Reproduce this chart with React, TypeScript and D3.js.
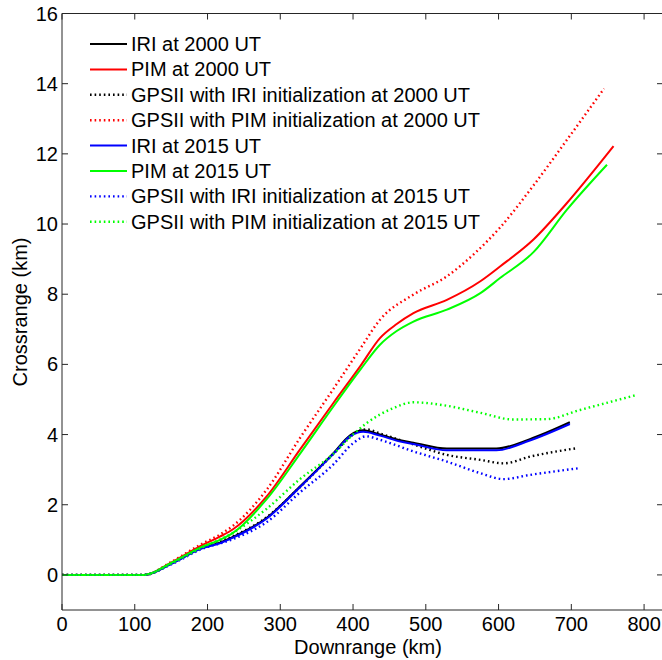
import React from "react";
import * as d3 from "d3";

const xTicks = [0, 100, 200, 300, 400, 500, 600, 700, 800];
const yTicks = [0, 2, 4, 6, 8, 10, 12, 14, 16];

const iri2000X = [0, 60, 113, 150, 190, 217, 235, 281, 327, 373, 396, 414, 437, 465, 483, 529, 597, 643, 698];
const iri2000Y = [0, 0, 0, 0.32, 0.75, 0.92, 1.08, 1.62, 2.52, 3.47, 3.98, 4.12, 4.0, 3.84, 3.77, 3.6, 3.6, 3.87, 4.35];

const pim2000X = [0, 60, 113, 150, 190, 217, 235, 281, 327, 373, 410, 437, 460, 483, 529, 575, 602, 648, 694, 758];
const pim2000Y = [0, 0, 0, 0.35, 0.82, 1.09, 1.3, 2.23, 3.57, 4.9, 5.95, 6.75, 7.15, 7.46, 7.84, 8.37, 8.79, 9.56, 10.6, 12.22];

const gpsIri2000X = [0, 60, 113, 150, 190, 235, 281, 327, 373, 400, 418, 437, 483, 529, 575, 607, 643, 707];
const gpsIri2000Y = [0, 0, 0, 0.33, 0.76, 1.1, 1.64, 2.5, 3.45, 4.0, 4.15, 4.03, 3.72, 3.42, 3.28, 3.18, 3.37, 3.61];

const gpsPim2000X = [0, 60, 113, 150, 190, 217, 235, 281, 327, 373, 410, 437, 483, 529, 568, 602, 648, 694, 745];
const gpsPim2000Y = [0, 0, 0, 0.37, 0.86, 1.15, 1.4, 2.42, 3.9, 5.3, 6.45, 7.27, 7.99, 8.51, 9.18, 9.9, 11.1, 12.4, 13.86];

const iri2015X = [0, 60, 113, 150, 190, 217, 235, 281, 327, 373, 396, 414, 437, 465, 483, 529, 597, 643, 698];
const iri2015Y = [0, 0, 0, 0.31, 0.74, 0.9, 1.06, 1.6, 2.5, 3.45, 3.95, 4.08, 3.97, 3.8, 3.73, 3.55, 3.55, 3.83, 4.3];

const pim2015X = [0, 60, 113, 150, 190, 217, 235, 281, 327, 373, 410, 437, 460, 483, 529, 575, 602, 648, 694, 749];
const pim2015Y = [0, 0, 0, 0.34, 0.78, 1.0, 1.2, 2.15, 3.45, 4.8, 5.85, 6.56, 6.95, 7.22, 7.56, 8.03, 8.46, 9.2, 10.41, 11.69];

const gpsIri2015X = [0, 60, 113, 150, 190, 235, 281, 327, 373, 400, 418, 437, 483, 529, 575, 607, 643, 710];
const gpsIri2015Y = [0, 0, 0, 0.3, 0.72, 1.02, 1.5, 2.35, 3.15, 3.75, 3.95, 3.85, 3.52, 3.23, 2.9, 2.73, 2.85, 3.04];

const gpsPim2015X = [0, 60, 113, 150, 190, 235, 281, 327, 373, 400, 419, 455, 483, 529, 575, 620, 666, 712, 790];
const gpsPim2015Y = [0, 0, 0, 0.32, 0.75, 1.2, 1.88, 2.73, 3.45, 4.0, 4.33, 4.75, 4.92, 4.82, 4.62, 4.43, 4.44, 4.7, 5.13];

const seriesNames = [
  "IRI at 2000 UT",
  "PIM at 2000 UT",
  "GPSII with IRI initialization at 2000 UT",
  "GPSII with PIM initialization at 2000 UT",
  "IRI at 2015 UT",
  "PIM at 2015 UT",
  "GPSII with IRI initialization at 2015 UT",
  "GPSII with PIM initialization at 2015 UT",
];
const seriesX = [iri2000X, pim2000X, gpsIri2000X, gpsPim2000X, iri2015X, pim2015X, gpsIri2015X, gpsPim2015X];
const seriesY = [iri2000Y, pim2000Y, gpsIri2000Y, gpsPim2000Y, iri2015Y, pim2015Y, gpsIri2015Y, gpsPim2015Y];
const seriesColor = ["#000000", "#ff0000", "#000000", "#ff0000", "#0000ff", "#00ff00", "#0000ff", "#00ff00"];
const seriesDotted = [false, false, true, true, false, false, true, true];

const W = 662;
const H = 660;
const FONT = "'Liberation Sans', Arial, Helvetica, sans-serif";
const FS = 20;
const DOT = "1.6 3";

export default function App() {
  const x = d3.scaleLinear().domain([0, 826]).range([62, 663]);
  const y = d3.scaleLinear().domain([-1, 16]).range([610, 13.5]);
  const line = d3
    .line<[number, number]>()
    .x((d) => x(d[0]))
    .y((d) => y(d[1]))
    .curve(d3.curveMonotoneX);

  const left = x(0);
  const right = x(826);
  const top = y(16);
  const bottom = y(-1);
  const tl = 6;

  return (
    <svg
      width={W}
      height={H}
      style={{ position: "absolute", left: 0, top: 0, display: "block", background: "#fff" }}
      fontFamily={FONT}
    >
      <rect x={0} y={0} width={W} height={H} fill="#fff" />
      <defs>
        <clipPath id="plotclip">
          <rect x={left} y={top} width={right - left} height={bottom - top} />
        </clipPath>
      </defs>
      <g clipPath="url(#plotclip)">
        {seriesX.map((xs, i) => (
          <path
            key={i}
            d={line(xs.map((v, j) => [v, seriesY[i][j]] as [number, number])) || ""}
            fill="none"
            stroke={seriesColor[i]}
            strokeWidth={seriesDotted[i] ? 2.4 : 2}
            strokeDasharray={seriesDotted[i] ? DOT : undefined}
          />
        ))}
      </g>
      <g stroke="#262626" strokeWidth={1} fill="none">
        <line x1={left} x2={left} y1={top} y2={bottom} />
        <line x1={left} x2={right} y1={bottom} y2={bottom} />
        <line x1={left} x2={right} y1={top} y2={top} />
        <line x1={right} x2={right} y1={top} y2={bottom} />
        {xTicks.map((t) => (
          <g key={"xt" + t}>
            <line x1={x(t)} x2={x(t)} y1={bottom} y2={bottom - tl} />
            <line x1={x(t)} x2={x(t)} y1={top} y2={top + tl} />
          </g>
        ))}
        {yTicks.map((t) => (
          <g key={"yt" + t}>
            <line x1={left} x2={left + tl} y1={y(t)} y2={y(t)} />
            <line x1={right} x2={right - tl} y1={y(t)} y2={y(t)} />
          </g>
        ))}
      </g>
      <g fontSize={FS} fill="#000">
        {xTicks.map((t) => (
          <text key={"xl" + t} x={x(t)} y={630.5} textAnchor="middle">
            {t}
          </text>
        ))}
        {yTicks.map((t) => (
          <text key={"yl" + t} x={58} y={y(t)} textAnchor="end" dominantBaseline="central">
            {t}
          </text>
        ))}
        <text x={368} y={653.5} textAnchor="middle">
          Downrange (km)
        </text>
        <text x={27} y={312} textAnchor="middle" transform="rotate(-90 27 312)">
          Crossrange (km)
        </text>
      </g>
      <g fontSize={FS}>
        {seriesNames.map((n, i) => {
          const cy = 44 + i * 25.4;
          return (
            <g key={"lg" + i}>
              <line
                x1={90}
                x2={127}
                y1={cy}
                y2={cy}
                stroke={seriesColor[i]}
                strokeWidth={seriesDotted[i] ? 2.4 : 2}
                strokeDasharray={seriesDotted[i] ? DOT : undefined}
              />
              <text x={131} y={cy} dominantBaseline="central" fill="#000">
                {n}
              </text>
            </g>
          );
        })}
      </g>
    </svg>
  );
}
